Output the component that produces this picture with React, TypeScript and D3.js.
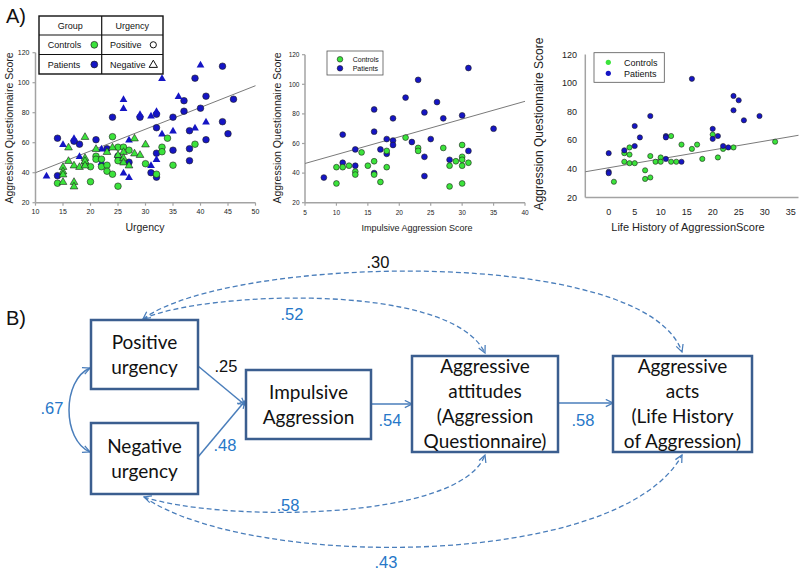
import React from 'react';
import * as d3 from 'd3';

// ---------- Data: Panel A1 (Urgency vs Aggression Questionnaire) ----------
const p1ControlsPositive: [number, number][] = [
  [14,33],[20,34],[25,31],[20,44],[21,51],[21,49],[22,44],[23,45],[23,41],[24,39],[24,64],[25,57],
  [26,57],[25,48],[27,55],[30,46],[32,39],[33,57],[33,54],[34,63],[35,45],[39,59],[19,46],[22,49]
];
const p1ControlsNegative: [number, number][] = [
  [15,44],[15,41],[15,39],[15,34],[16,57],[16,48],[17,45],[17,34],[17,31],[18,44],[19,64],[19,50],
  [19,48],[19,45],[21,56],[23,54],[24,57],[26,54],[26,50],[26,47],[27,45],[28,53],[28,63],[30,59],[25,52],[29,52]
];
const p1PatientsPositive: [number, number][] = [
  [14,63],[14,38],[18,59],[17,61],[21,62],[23,56],[24,77],[25,51],[27,47],[29,77],[31,40],[32,37],
  [32,53],[32,70],[32,79],[35,55],[35,77],[37,81],[37,88],[38,68],[38,56],[38,48],[39,103],[40,83],
  [41,91],[41,62],[44,111],[44,74],[45,66],[46,89]
];
const p1PatientsNegative: [number, number][] = [
  [12,38],[15,59],[18,51],[17,63],[22,47],[22,56],[26,89],[26,83],[26,40],[27,37],[29,79],[31,78],
  [32,81],[31,45],[32,49],[33,103],[33,66],[35,68],[36,91],[39,70],[40,112],[41,74],[27,62]
];
const p1Trend: [number, number][] = [[10,40],[50,98]];
const p1XTicks = [10,15,20,25,30,35,40,45,50];
const yTicksAQ = [20,40,60,80,100,120];

// ---------- Data: Panel A2 (Impulsive Aggression) ----------
const p2Patients: [number, number][] = [
  [8,37],[11,66],[11,47],[13,56],[13,45],[16,83],[16,68],[16,40],[17,56],[18,63],[18,53],[19,77],
  [19,62],[19,59],[21,91],[22,61],[23,103],[24,81],[24,51],[24,38],[25,63],[26,88],[27,77],[28,49],
  [30,79],[31,111],[31,55],[35,70]
];
const p2Controls: [number, number][] = [
  [10,44],[10,33],[11,44],[12,45],[13,41],[13,39],[14,54],[15,45],[16,48],[16,39],[17,34],[18,55],
  [18,44],[21,64],[23,57],[23,55],[27,57],[28,45],[28,31],[29,48],[30,59],[30,51],[30,49],[30,45],[30,33],[31,47]
];
const p2Trend: [number, number][] = [[5,46.5],[40,88.5]];
const p2XTicks = [5,10,15,20,25,30,35,40];

// ---------- Data: Panel A3 (Life History of Aggression) ----------
const p3Patients: [number, number][] = [
  [0,51],[0,38],[0,37],[3,53],[5,70],[5,56],[6,62],[8,77],[11,63],[11,62],[11,47],[14,45],[16,103],
  [20,68],[20,61],[21,63],[22,56],[23,55],[24,91],[24,81],[25,88],[26,74],[29,77]
];
const p3Controls: [number, number][] = [
  [1,31],[3,51],[3,45],[4,55],[4,50],[4,44],[5,44],[7,39],[7,33],[8,49],[8,34],[9,45],[10,48],[10,45],
  [12,63],[12,45],[13,45],[14,57],[16,54],[17,57],[18,47],[20,64],[21,48],[22,54],[24,55],[32,59]
];
const p3Trend: [number, number][] = [[-4.5,38],[36.5,63.5]];
const p3XTicks = [0,5,10,15,20,25,30,35];

// ---------- Data: Panel B (path model) ----------
const boxPositive = ['Positive', 'urgency'];
const boxNegative = ['Negative', 'urgency'];
const boxImpulsive = ['Impulsive', 'Aggression'];
const boxAttitudes = ['Aggressive', 'attitudes', '(Aggression', 'Questionnaire)'];
const boxActs = ['Aggressive', 'acts', '(Life History', 'of Aggression)'];
const coefDirect = ['.25', '.48', '.54', '.58'];
const coefCorrelation = ['.67', '.30', '.52', '.58', '.43'];

const GREEN = '#3be33b';
const BLUE = '#1515c4';
const AXIS = '#a3a3a3';
const TREND = '#7a7a7a';
const MSTROKE = '#1e1e1e';
const ARROW = '#4a7ebb';
const BOXSTROKE = '#3b5e8f';
const COEFBLUE = '#2677c8';
const SANS = '"Liberation Sans", Arial, sans-serif';
const BOXFONT = 'Lato, "Open Sans", sans-serif';

const tri = (size: number) => d3.symbol(d3.symbolTriangle, size)() as string;

interface AxesProps {
  x: d3.ScaleLinear<number, number>;
  y: d3.ScaleLinear<number, number>;
  xTicks: number[];
  yTicks: number[];
  fontSize: number;
  yLabelRight: number;
  xLabelY: number;
  tickLen: number;
}

function Axes({ x, y, xTicks, yTicks, fontSize, yLabelRight, xLabelY, tickLen }: AxesProps) {
  const [x0, x1] = x.range();
  const [y0, y1] = y.range();
  return (
    <g>
      <line x1={x0} x2={x0} y1={y0} y2={y1} stroke={AXIS} strokeWidth={1.5} />
      <line x1={x0} x2={x1} y1={y0} y2={y0} stroke={AXIS} strokeWidth={1.5} />
      {yTicks.map(t => (
        <g key={'y' + t}>
          <line x1={x0 - tickLen} x2={x0} y1={y(t)} y2={y(t)} stroke={AXIS} strokeWidth={1.2} />
          <text x={yLabelRight} y={y(t)} dy="0.35em" textAnchor="end" fontSize={fontSize} fontFamily={SANS} fill="#222">{t}</text>
        </g>
      ))}
      {xTicks.map(t => (
        <g key={'x' + t}>
          <line x1={x(t)} x2={x(t)} y1={y0} y2={y0 + tickLen} stroke={AXIS} strokeWidth={1.2} />
          <text x={x(t)} y={xLabelY} dy="0.35em" textAnchor="middle" fontSize={fontSize} fontFamily={SANS} fill="#222">{t}</text>
        </g>
      ))}
    </g>
  );
}

function Circles({ data, x, y, r, fill, stroke }: { data: [number, number][]; x: any; y: any; r: number; fill: string; stroke?: string }) {
  return (
    <g>
      {data.map((d, i) => (
        <circle key={i} cx={x(d[0])} cy={y(d[1])} r={r} fill={fill} stroke={stroke ?? MSTROKE} strokeWidth={stroke === 'none' ? 0 : 0.6} />
      ))}
    </g>
  );
}

function Triangles({ data, x, y, size, fill, stroke }: { data: [number, number][]; x: any; y: any; size: number; fill: string; stroke: string }) {
  const p = tri(size);
  return (
    <g>
      {data.map((d, i) => (
        <path key={i} d={p} transform={`translate(${x(d[0])},${y(d[1]) + 0.5})`} fill={fill} stroke={stroke} strokeWidth={stroke === 'none' ? 0 : 0.6} />
      ))}
    </g>
  );
}

function Trend({ pts, x, y }: { pts: [number, number][]; x: any; y: any }) {
  const line = d3.line<[number, number]>().x(d => x(d[0])).y(d => y(d[1]));
  return <path d={line(pts) as string} stroke={TREND} strokeWidth={1} fill="none" />;
}

function PanelA() {
  const x1 = d3.scaleLinear().domain([10, 50]).range([35.5, 255.5]);
  const y1 = d3.scaleLinear().domain([20, 120]).range([202.7, 52.7]);
  const x2 = d3.scaleLinear().domain([5, 40]).range([305, 525]);
  const y2 = d3.scaleLinear().domain([20, 120]).range([202.7, 54.7]);
  const x3 = d3.scaleLinear().domain([-4.5, 36.5]).range([585.3, 798.5]);
  const y3 = d3.scaleLinear().domain([20, 120]).range([197.5, 54.5]);

  return (
    <g>
      <text x={6} y={23} fontSize={20} fontFamily={SANS} fill="#111">A)</text>

      {/* ---- Panel 1 ---- */}
      <Axes x={x1} y={y1} xTicks={p1XTicks} yTicks={yTicksAQ} fontSize={7} yLabelRight={29.5} xLabelY={212} tickLen={3} />
      <Trend pts={p1Trend} x={x1} y={y1} />
      <Circles data={p1PatientsPositive} x={x1} y={y1} r={3.3} fill={BLUE} />
      <Triangles data={p1PatientsNegative} x={x1} y={y1} size={26} fill={BLUE} stroke="none" />
      <Circles data={p1ControlsPositive} x={x1} y={y1} r={3.3} fill={GREEN} />
      <Triangles data={p1ControlsNegative} x={x1} y={y1} size={26} fill={GREEN} stroke={MSTROKE} />
      <text transform="translate(13,128) rotate(-90)" textAnchor="middle" fontSize={10.5} fontFamily={SANS} fill="#222">Aggression Questionnaire Score</text>
      <text x={145} y={231} textAnchor="middle" fontSize={10.5} fontFamily={SANS} fill="#222">Urgency</text>

      {/* legend table */}
      <g fontFamily={SANS} fontSize={9} fill="#111">
        <rect x={39} y={16} width={124} height={58} fill="#fff" stroke="#111" strokeWidth={1.4} />
        <line x1={39} x2={163} y1={35} y2={35} stroke="#111" strokeWidth={1.2} />
        <line x1={39} x2={163} y1={54.5} y2={54.5} stroke="#111" strokeWidth={1.2} />
        <line x1={101.7} x2={101.7} y1={16} y2={74} stroke="#111" strokeWidth={1.2} />
        <text x={70.3} y={28.8} textAnchor="middle">Group</text>
        <text x={132.3} y={28.8} textAnchor="middle">Urgency</text>
        <text x={47.7} y={48}>Controls</text>
        <circle cx={94.3} cy={44.8} r={3.4} fill={GREEN} stroke={MSTROKE} strokeWidth={0.7} />
        <text x={110} y={48}>Positive</text>
        <circle cx={153.3} cy={44.8} r={3.1} fill="#fff" stroke="#111" strokeWidth={1} />
        <text x={47.7} y={67.7}>Patients</text>
        <circle cx={94.3} cy={64.5} r={3.4} fill={BLUE} stroke={MSTROKE} strokeWidth={0.7} />
        <text x={110} y={67.7}>Negative</text>
        <path d={tri(30)} transform="translate(153.3,65)" fill="#fff" stroke="#111" strokeWidth={1} />
      </g>

      {/* ---- Panel 2 ---- */}
      <Axes x={x2} y={y2} xTicks={p2XTicks} yTicks={yTicksAQ} fontSize={6.5} yLabelRight={299.5} xLabelY={212.5} tickLen={3} />
      <Trend pts={p2Trend} x={x2} y={y2} />
      <Circles data={p2Patients} x={x2} y={y2} r={2.9} fill={BLUE} />
      <Circles data={p2Controls} x={x2} y={y2} r={2.9} fill={GREEN} />
      <text transform="translate(281,128) rotate(-90)" textAnchor="middle" fontSize={10.5} fontFamily={SANS} fill="#222">Aggression Questionnaire Score</text>
      <text x={417} y={231} textAnchor="middle" fontSize={9} fontFamily={SANS} fill="#222">Impulsive Aggression Score</text>
      <g fontFamily={SANS} fontSize={7} fill="#111">
        <rect x={327} y={51} width={56} height={24} fill="#fff" stroke="#555" strokeWidth={0.8} />
        <circle cx={340} cy={59.3} r={2.8} fill={GREEN} stroke={MSTROKE} strokeWidth={0.6} />
        <text x={352.7} y={61.8}>Controls</text>
        <circle cx={340} cy={68.3} r={2.8} fill={BLUE} stroke={MSTROKE} strokeWidth={0.6} />
        <text x={352.7} y={70.8}>Patients</text>
      </g>

      {/* ---- Panel 3 ---- */}
      <Axes x={x3} y={y3} xTicks={p3XTicks} yTicks={yTicksAQ} fontSize={9} yLabelRight={577} xLabelY={211.7} tickLen={0} />
      <Trend pts={p3Trend} x={x3} y={y3} />
      <Circles data={p3Controls} x={x3} y={y3} r={2.6} fill={GREEN} />
      <Circles data={p3Patients} x={x3} y={y3} r={2.6} fill={BLUE} />
      <text transform="translate(543,124) rotate(-90)" textAnchor="middle" fontSize={12} fontFamily={SANS} fill="#222">Aggression Questionnaire Score</text>
      <text x={688} y={231} textAnchor="middle" fontSize={11} fontFamily={SANS} fill="#222">Life History of AggressionScore</text>
      <g fontFamily={SANS} fontSize={9} fill="#111">
        <rect x={594} y={52.7} width={70.3} height={29.6} fill="#fff" stroke="#555" strokeWidth={0.8} />
        <circle cx={608.3} cy={62.3} r={2.6} fill={GREEN} />
        <text x={624} y={65.5}>Controls</text>
        <circle cx={608.3} cy={73.3} r={2.6} fill={BLUE} />
        <text x={624} y={76.5}>Patients</text>
      </g>
    </g>
  );
}

function Box({ x, y, w, h, lines }: { x: number; y: number; w: number; h: number; lines: string[] }) {
  const lh = 25;
  const cy = y + h / 2;
  const start = cy - ((lines.length - 1) * lh) / 2;
  return (
    <g>
      <rect x={x} y={y} width={w} height={h} fill="#fff" stroke={BOXSTROKE} strokeWidth={2.5} />
      {lines.map((l, i) => (
        <text key={i} x={x + w / 2} y={start + i * lh} dy="0.35em" textAnchor="middle" fontSize={19} fontFamily={BOXFONT} fill="#111">{l}</text>
      ))}
    </g>
  );
}

function PanelB() {
  const solid = { stroke: ARROW, strokeWidth: 1.5, fill: 'none' };
  const dashed = { stroke: ARROW, strokeWidth: 1.3, fill: 'none', strokeDasharray: '5,3' };
  const coef = (t: string, x: number, y: number, color: string) => (
    <text x={x} y={y} dy="0.35em" textAnchor="middle" fontSize={16.5} fontFamily={SANS} fill={color}>{t}</text>
  );
  return (
    <g>
      <defs>
        <marker id="chev" viewBox="0 0 10 10" refX="9" refY="5" markerWidth="9" markerHeight="9" markerUnits="userSpaceOnUse" orient="auto-start-reverse">
          <path d="M1,1 L9,5 L1,9" fill="none" stroke={ARROW} strokeWidth={1.4} />
        </marker>
      </defs>
      <text x={6} y={325} fontSize={20} fontFamily={SANS} fill="#111">B)</text>

      {/* correlation curves */}
      <path d="M143,319 C230,255 645,245 682,352" {...dashed} markerStart="url(#chev)" markerEnd="url(#chev)" />
      <path d="M143,319 C200,292 450,280 485,353" {...dashed} markerEnd="url(#chev)" />
      <path d="M144,497 C220,522 460,522 485,455" {...dashed} markerStart="url(#chev)" markerEnd="url(#chev)" />
      <path d="M144,497 C250,570 620,570 682,455" {...dashed} markerEnd="url(#chev)" />
      <path d="M90,368 C62,380 62,440 90,452" {...solid} markerStart="url(#chev)" markerEnd="url(#chev)" />

      {/* direct paths */}
      <path d="M198,366 L245,405" {...solid} markerEnd="url(#chev)" />
      <path d="M198,457 L245,401" {...solid} markerEnd="url(#chev)" />
      <path d="M371,404 L412,404" {...solid} markerEnd="url(#chev)" />
      <path d="M558,403 L613,403" {...solid} markerEnd="url(#chev)" />

      <Box x={91} y={320} w={107} h={69} lines={boxPositive} />
      <Box x={91} y={423} w={107} h={71} lines={boxNegative} />
      <Box x={246} y={370} w={125} h={69} lines={boxImpulsive} />
      <Box x={412} y={356} w={146} h={96} lines={boxAttitudes} />
      <Box x={613} y={356} w={139} h={96} lines={boxActs} />

      {coef(coefDirect[0], 226, 366, '#111')}
      {coef(coefDirect[1], 225, 445, COEFBLUE)}
      {coef(coefDirect[2], 390, 420, COEFBLUE)}
      {coef(coefDirect[3], 583, 420, COEFBLUE)}
      {coef(coefCorrelation[0], 52, 408, COEFBLUE)}
      {coef(coefCorrelation[1], 378, 262, '#111')}
      {coef(coefCorrelation[2], 292, 314, COEFBLUE)}
      {coef(coefCorrelation[3], 288, 505, COEFBLUE)}
      {coef(coefCorrelation[4], 386, 562, COEFBLUE)}
    </g>
  );
}

export default function App() {
  return (
    <svg width={800} height={572} viewBox="0 0 800 572" style={{ position: 'absolute', left: 0, top: 0, background: '#fff' }}>
      <rect width={800} height={572} fill="#fff" />
      <PanelA />
      <PanelB />
    </svg>
  );
}
